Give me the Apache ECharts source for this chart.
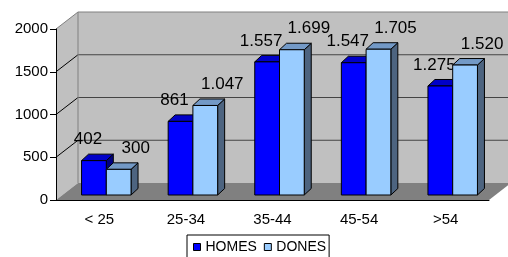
<!DOCTYPE html>
<html>
<head>
<meta charset="utf-8">
<script src="https://cdn.jsdelivr.net/npm/echarts@6/dist/echarts.min.js"></script>
<style>
  html, body { margin: 0; padding: 0; background: #fff; }
  #chart { width: 508px; height: 257px; }
</style>
</head>
<body>
<div id="chart"></div>
<script>
// ---- data ----
const categories = ['< 25', '25-34', '35-44', '45-54', '>54'];
const homes = [402, 861, 1557, 1547, 1275];
const dones = [300, 1047, 1699, 1705, 1520];
const yMax = 2000;
const yStep = 500;

// ---- 3D look ----
const FONT = '"Liberation Sans", Arial, sans-serif';
const DEPTH = [22, -17];     // floor / wall depth offset
const BAR_FRONT = [7, -5];   // bar front plane inside the depth
const BAR_DEPTH = [7, -6.5]; // bar thickness

// 1.047 style labels
function fmt(v) {
  if (v < 1000) return String(v);
  const r = String(v % 1000).padStart(3, '0');
  return Math.floor(v / 1000) + '.' + r;
}

// ---- floor, walls and gridlines ----
function renderWalls(params, api) {
  const p0 = api.coord([0, 0]);
  const w = api.size([1, 0])[0];
  const x0 = p0[0] - w / 2;
  const x1 = x0 + w * categories.length;
  const yb = p0[1];
  const yt = api.coord([0, yMax])[1];
  const dx = DEPTH[0], dy = DEPTH[1];
  const children = [
    { type: 'polygon', shape: { points: [[x0 + dx, yt + dy], [x1 + dx, yt + dy], [x1 + dx, yb + dy], [x0 + dx, yb + dy]] },
      style: { fill: '#c0c0c0' } },
    { type: 'polygon', shape: { points: [[x0, yb], [x0, yt], [x0 + dx, yt + dy], [x0 + dx, yb + dy]] },
      style: { fill: '#c0c0c0' } },
    { type: 'polygon', shape: { points: [[x0, yb], [x1, yb], [x1 + dx, yb + dy], [x0 + dx, yb + dy]] },
      style: { fill: '#808080' } }
  ];
  for (let v = yStep; v < yMax; v += yStep) {
    const y = api.coord([0, v])[1];
    children.push({ type: 'line', shape: { x1: x0, y1: y, x2: x0 + dx, y2: y + dy }, style: { stroke: '#000', lineWidth: 1 } });
    children.push({ type: 'line', shape: { x1: x0 + dx, y1: y + dy, x2: x1 + dx, y2: y + dy }, style: { stroke: '#444', lineWidth: 1 } });
  }
  // wall edges
  children.push({ type: 'polyline', shape: { points: [[x0, yt], [x0 + dx, yt + dy], [x1 + dx, yt + dy]] }, style: { stroke: '#808080', fill: null, lineWidth: 1 } });
  children.push({ type: 'line', shape: { x1: x0 + dx, y1: yt + dy, x2: x0 + dx, y2: yb + dy }, style: { stroke: '#808080', lineWidth: 1 } });
  return { type: 'group', children: children };
}

// ---- one 3D column ----
function barRenderer(side, colors, labelShift) {
  return function (params, api) {
    const i = api.value(0), v = api.value(1);
    const base = api.coord([i, 0]);
    const top = api.coord([i, v]);
    const bw = api.size([1, 0])[0] / 3.5;
    const xl = base[0] + (side < 0 ? -bw : 0) + BAR_FRONT[0];
    const xr = xl + bw;
    const yb = base[1] + BAR_FRONT[1];
    const yt = top[1] + BAR_FRONT[1];
    const bx = BAR_DEPTH[0], by = BAR_DEPTH[1];
    const line = { stroke: '#000', lineWidth: 1, lineJoin: 'round' };
    return {
      type: 'group',
      children: [
        { type: 'polygon', shape: { points: [[xr, yb], [xr + bx, yb + by], [xr + bx, yt + by], [xr, yt]] },
          style: Object.assign({ fill: colors[2] }, line) },
        { type: 'polygon', shape: { points: [[xl, yt], [xr, yt], [xr + bx, yt + by], [xl + bx, yt + by]] },
          style: Object.assign({ fill: colors[1] }, line) },
        { type: 'polygon', shape: { points: [[xl, yb], [xr, yb], [xr, yt], [xl, yt]] },
          style: Object.assign({ fill: colors[0] }, line) },
        { type: 'text', style: { text: fmt(v), x: (xl + xr) / 2 + labelShift, y: yt - 21,
            align: 'center', verticalAlign: 'middle', fill: '#000', font: '17px ' + FONT } }
      ]
    };
  };
}

const homesColors = ['#0000ff', '#0000c8', '#000080'];
const donesColors = ['#99ccff', '#7399c6', '#4d6480'];

const chart = echarts.init(document.getElementById('chart'));
chart.setOption({
  animation: false,
  backgroundColor: '#fff',
  grid: { left: 56, right: 19, top: 29, bottom: 57 },
  xAxis: {
    type: 'category',
    data: categories,
    axisLine: { lineStyle: { color: '#000', width: 1 } },
    axisTick: { length: 6, lineStyle: { color: '#000' } },
    axisLabel: { color: '#000', fontSize: 15, fontFamily: FONT, margin: 12 }
  },
  yAxis: {
    type: 'value',
    min: 0,
    max: yMax,
    interval: yStep,
    axisLine: { show: true, lineStyle: { color: '#000', width: 1 } },
    axisTick: { show: true, length: 6, lineStyle: { color: '#000' } },
    splitLine: { show: false },
    axisLabel: { color: '#000', fontSize: 15, fontFamily: FONT, margin: 8, formatter: v => String(v) }
  },
  legend: {
    left: 187,
    top: 235,
    itemWidth: 7,
    itemHeight: 7,
    itemGap: 7,
    padding: [5, 3, 16, 6],
    borderColor: '#000',
    borderWidth: 1,
    textStyle: { color: '#000', fontSize: 14, fontFamily: FONT },
    data: [
      { name: 'HOMES', icon: 'rect', itemStyle: { color: homesColors[0], borderColor: '#000', borderWidth: 1 } },
      { name: 'DONES', icon: 'rect', itemStyle: { color: donesColors[0], borderColor: '#000', borderWidth: 1 } }
    ]
  },
  series: [
    { type: 'custom', name: 'walls', z: -1, silent: true, renderItem: renderWalls, data: [[0, 0]] },
    { type: 'custom', name: 'HOMES', itemStyle: { color: homesColors[0] },
      renderItem: barRenderer(-1, homesColors, -6), encode: { x: 0, y: 1 },
      data: homes.map((v, i) => [i, v]) },
    { type: 'custom', name: 'DONES', itemStyle: { color: donesColors[0] },
      renderItem: barRenderer(1, donesColors, 17), encode: { x: 0, y: 1 },
      data: dones.map((v, i) => [i, v]) }
  ]
});
</script>
</body>
</html>
